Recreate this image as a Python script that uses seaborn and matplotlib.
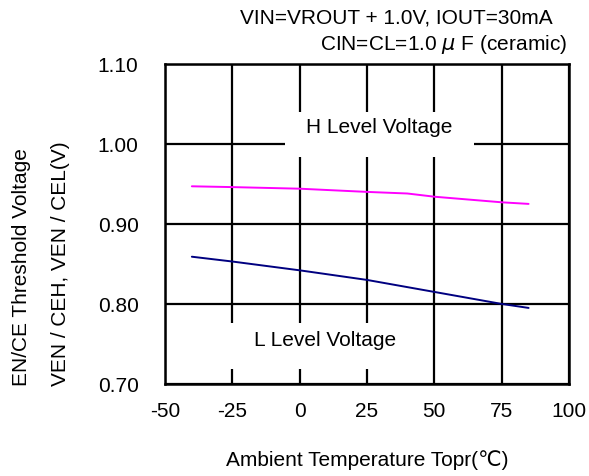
import matplotlib
matplotlib.use("Agg")
import matplotlib.pyplot as plt
import seaborn as sns
import pandas as pd
from matplotlib.patches import Rectangle

# Data
temp_h = [-40, -25, 0, 25, 40, 50, 75, 85]
v_high = [0.947, 0.946, 0.944, 0.940, 0.938, 0.934, 0.927, 0.925]
temp_l = [-40, -25, 0, 25, 50, 75, 85]
v_low = [0.859, 0.853, 0.842, 0.830, 0.815, 0.800, 0.795]
x_ticks = [-50, -25, 0, 25, 50, 75, 100]
y_ticks = [0.70, 0.80, 0.90, 1.00, 1.10]

sns.set_theme(style="white")
plt.rcParams['font.family'] = ['Liberation Sans', 'DejaVu Sans']
plt.rcParams['text.color'] = 'black'
plt.rcParams['axes.labelcolor'] = 'black'

FS = 15

df = pd.concat([
    pd.DataFrame({"T": temp_h, "V": v_high, "s": "H"}),
    pd.DataFrame({"T": temp_l, "V": v_low, "s": "L"}),
])

fig = plt.figure(figsize=(5.89, 4.77), dpi=100)
ax = fig.add_axes([0.280, 0.193, 0.686, 0.671])

sns.lineplot(data=df, x="T", y="V", hue="s", palette={"H": "#FF00FF", "L": "#000080"},
             linewidth=1.4, legend=False, ax=ax, zorder=3, estimator=None, sort=False)

ax.set_xlim(-50, 100)
ax.set_ylim(0.70, 1.10)
ax.set_xticks(x_ticks)
ax.set_yticks(y_ticks)
ax.set_xticklabels([str(t) for t in x_ticks])
ax.set_yticklabels([f"{t:.2f}" for t in y_ticks])
ax.grid(True, color="black", linewidth=1.6)
ax.set_axisbelow(True)
for s in ax.spines.values():
    s.set_color("black")
    s.set_linewidth(1.8)
ax.tick_params(axis="both", length=0, labelsize=FS, colors="black")
ax.tick_params(axis="y", pad=19)
ax.tick_params(axis="x", pad=12)

# white boxes behind labels
ax.add_patch(Rectangle((-5.4, 0.984), 70.1, 0.056, facecolor="white", edgecolor="none", zorder=2))
ax.add_patch(Rectangle((-28.5, 0.719), 74, 0.057, facecolor="white", edgecolor="none", zorder=2))
ax.text(29.6, 1.022, "H Level Voltage", ha="center", va="center", fontsize=FS, zorder=4)
ax.text(9.3, 0.756, "L Level Voltage", ha="center", va="center", fontsize=FS, zorder=4)

ax.set_xlabel("")
ax.set_ylabel("")
fig.text(367/589, 1 - 460/477, "Ambient Temperature Topr(\u2103)", ha="center", va="center", fontsize=FS)
fig.text(22/589, 1 - 267/477, "EN/CE Threshold Voltage", rotation=90, ha="center", va="center", fontsize=FS)
fig.text(60/589, 1 - 264/477, "VEN / CEH, VEN / CEL(V)", rotation=90, ha="center", va="center", fontsize=FS)

fig.text(553/589, 1 - 18/477, "VIN=VROUT + 1.0V, IOUT=30mA", ha="right", va="center", fontsize=FS)
fig.text(567/589, 1 - 45/477, r"CIN=CL=1.0 $\mu$ F (ceramic)", ha="right", va="center", fontsize=FS)

fig.savefig("out.png", dpi=100)
